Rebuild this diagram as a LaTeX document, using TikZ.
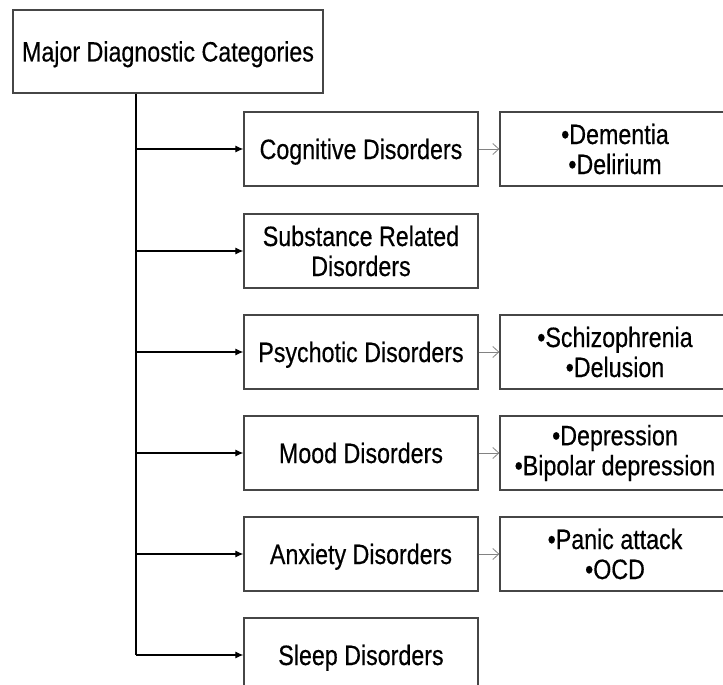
\documentclass[tikz,border=0pt]{standalone}
\usepackage{fontspec}
\setmainfont{Liberation Sans}[FakeStretch=0.83, FakeBold=0.4]
\usetikzlibrary{arrows.meta}
\definecolor{boxline}{RGB}{70,70,70}
\definecolor{subarrow}{RGB}{130,130,130}
\tikzset{
  catbox/.style={draw=boxline, line width=1.3pt, fill=white, minimum width=234pt, minimum height=74pt,
    inner sep=0pt, align=center, font=\fontsize{28}{30}\selectfont},
  oneline/.style={text height=26pt, text depth=6pt},
  listbox/.style={catbox, minimum width=230pt},
  mainbox/.style={catbox, oneline, minimum width=310pt, minimum height=83pt},
  trunk/.style={draw=black, line width=1.1pt},
  feed/.style={trunk, -{Latex[length=8pt,width=7pt]}},
  subfeed/.style={draw=subarrow, line width=0.8pt, -{Straight Barb[length=6pt,width=11pt]}}
}
\begin{document}
\begin{tikzpicture}[x=1pt,y=-1pt]
\useasboundingbox (0,0) rectangle (723,685);
\clip (0,0) rectangle (723,685);
\node[mainbox] (main) at (168,51.5) {Major Diagnostic Categories};
\node[catbox, oneline] (cog) at (361,149) {Cognitive Disorders};
\node[catbox] (sub) at (361,251) {Substance Related\\Disorders};
\node[catbox, oneline] (psy) at (361,352) {Psychotic Disorders};
\node[catbox, oneline] (mood) at (361,453) {Mood Disorders};
\node[catbox, oneline] (anx) at (361,554) {Anxiety Disorders};
\node[catbox, oneline] (sleep) at (361,655) {Sleep Disorders};
\node[listbox] (cogl) at (615,149) {•Dementia\\•Delirium};
\node[listbox] (psyl) at (615,352) {•Schizophrenia\\•Delusion};
\node[listbox] (moodl) at (615,453) {•Depression\\•Bipolar depression};
\node[listbox] (anxl) at (615,554) {•Panic attack\\•OCD};
\coordinate (tx) at (136,0);
\draw[trunk] (main.south -| tx) -- (sleep.west -| tx);
\foreach \b in {cog,sub,psy,mood,anx,sleep}
  \draw[feed] (\b.west -| tx) -- (\b.west);
\draw[subfeed] (cog.east) -- (cogl.west);
\draw[subfeed] (psy.east) -- (psyl.west);
\draw[subfeed] (mood.east) -- (moodl.west);
\draw[subfeed] (anx.east) -- (anxl.west);
\end{tikzpicture}
\end{document}
